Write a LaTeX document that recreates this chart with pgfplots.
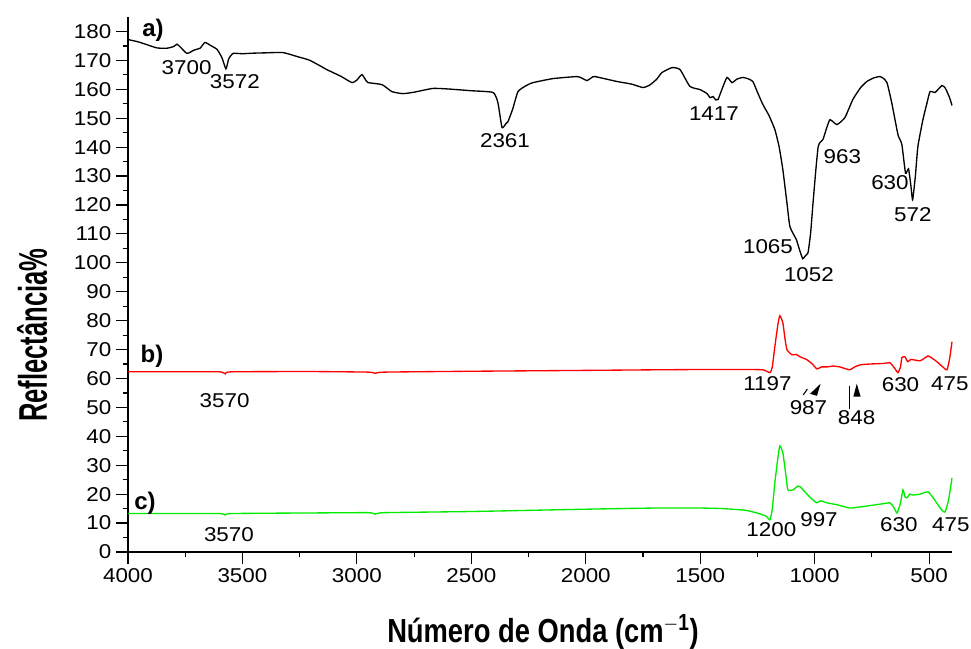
\documentclass[border=0pt]{standalone}
\usepackage{fontspec}
\setmainfont{Liberation Sans}
\newfontfamily\numfont[FakeStretch=1.12]{Liberation Sans}
\usepackage{graphicx}
\usepackage{pgfplots}
\pgfplotsset{compat=1.18}
\definecolor{specred}{RGB}{255,0,0}
\definecolor{specgreen}{RGB}{0,235,0}
\tikzset{
  lab/.style={font=\numfont\fontsize{15}{15}\selectfont, inner sep=0pt},
  tag/.style={font=\fontsize{18}{18}\selectfont\bfseries, inner sep=0pt},
}

\begin{document}
\begin{tikzpicture}
\begin{axis}[
    scale only axis,
    width=618pt, height=401.25pt,
    x dir=reverse,
    xmin=400, xmax=4000,
    ymin=0, ymax=185,
    axis x line=bottom, axis y line=left,
    axis line style={-, line width=1pt},
    tick align=outside,
    major tick length=9pt, minor tick length=4pt,
    xtick={500,1000,...,4000}, minor xtick={750,1250,...,3750},
    ytick={0,10,...,180}, minor ytick={5,15,...,175},
    every tick/.style={black, line width=0.9pt},
    tick label style={font=\numfont\fontsize{15}{15}\selectfont},
    /pgf/number format/assume math mode=true,
    /pgf/number format/1000 sep={},
    clip=false,
    every axis plot/.append style={smooth, tension=0.3, line width=1pt},
]

% a) black spectrum
\addplot[black] coordinates {
(4000,177.2) (3960,176.5) (3920,175.5) (3873,174.3) (3830,174.2) (3800,174.8)
(3786,175.6) (3770,174.5) (3742,172.4) (3710,173.6) (3685,174.2) (3664,176.2)
(3640,175.2) (3611,173.8) (3590,171.0) (3572,167.1) (3560,170.5) (3541,172.4)
(3500,172.3) (3450,172.5) (3400,172.6) (3323,172.7) (3260,171.3) (3205,170.0)
(3131,166.8) (3070,164.5) (3021,162.3) (3000,163.2) (2978,165.1) (2960,163.0)
(2951,162.3) (2890,161.6) (2847,159.2) (2799,158.5) (2750,159.0) (2668,160.3)
(2600,160.1) (2500,159.5) (2405,158.9) (2384,155.4) (2366,146.8) (2350,148.0)
(2340,148.8) (2320,153.0) (2296,159.2) (2260,161.3) (2231,162.3) (2143,163.7)
(2038,164.4) (2015,163.8) (1995,163.0) (1975,164.0) (1960,164.4) (1864,162.7)
(1800,161.8) (1750,160.6) (1720,161.5) (1690,163.5) (1667,165.8) (1623,167.5)
(1588,166.8) (1545,161.0) (1501,159.9) (1470,158.5) (1457,157.1) (1444,157.5)
(1432,156.3) (1422,156.5) (1405,160.0) (1383,164.1) (1361,162.3) (1340,163.5)
(1313,164.1) (1290,163.6) (1270,162.7) (1250,159.0) (1226,154.7) (1200,151.0)
(1174,146.1) (1155,140.0) (1139,132.2) (1120,120.0) (1108,112.5) (1080,108.0)
(1066,104.5) (1052,101.4) (1040,102.5) (1029,103.5) (1018,110.0) (1007,120.8)
(995,132.0) (985,140.0) (977,141.6) (964,142.6) (950,146.0) (933,149.5)
(903,147.8) (868,150.2) (833,156.5) (800,160.5) (772,162.7) (740,164.0)
(715,164.4) (700,163.8) (684,162.3) (665,156.0) (649,149.5) (635,144.0)
(619,140.9) (603,131.0) (590,132.5) (580,127.0) (572,121.8) (560,130.0)
(549,140.2) (527,149.5) (510,155.0) (496,159.2) (474,158.9) (444,161.3)
(430,160.5) (422,159.2) (410,157.0) (400,154.4)
};

% b) red spectrum
\addplot[specred] coordinates {
(4000,62.3) (3800,62.3) (3600,62.3) (3575,61.6) (3550,62.3) (3200,62.4)
(2950,62.2) (2920,61.8) (2880,62.2) (2500,62.5) (2000,62.8) (1700,63.0)
(1500,63.1) (1300,63.1) (1226,63.0) (1195,62.0) (1185,64.0) (1174,71.0)
(1160,79.0) (1152,81.7) (1139,79.3) (1130,74.0) (1121,69.9) (1099,68.2)
(1080,68.3) (1064,67.5) (1034,66.5) (1010,65.0) (990,63.3) (970,64.0)
(946,64.0) (920,64.3) (890,64.0) (870,63.5) (846,63.0) (825,64.0)
(802,64.7) (760,65.0) (700,65.2) (671,65.4) (650,63.5) (636,62.0)
(625,64.0) (619,67.2) (606,67.5) (593,65.8) (580,66.6) (571,66.5)
(540,66.1) (520,67.0) (505,67.8) (490,67.2) (466,65.8) (440,64.0)
(422,63.0) (410,67.0) (400,72.7)
};

% c) green spectrum
\addplot[specgreen] coordinates {
(4000,13.3) (3800,13.3) (3600,13.3) (3575,12.8) (3550,13.3) (3200,13.5)
(2950,13.6) (2920,13.1) (2880,13.6) (2500,14.0) (2000,14.8) (1700,15.2)
(1500,15.2) (1400,15.0) (1300,14.4) (1239,13.2) (1210,12.3) (1195,11.1)
(1185,15.0) (1174,23.9) (1160,33.0) (1152,36.7) (1139,34.3) (1128,28.0)
(1117,21.5) (1095,21.5) (1073,22.8) (1062,22.5) (1051,21.5) (1021,19.0)
(1000,17.5) (990,17.0) (975,17.7) (946,17.0) (900,16.3) (846,15.2)
(800,15.6) (772,15.9) (700,16.7) (671,17.0) (655,15.5) (640,13.5)
(625,17.0) (614,21.5) (605,19.0) (597,18.7) (585,20.0) (571,19.7)
(540,20.0) (505,20.8) (480,18.5) (450,15.0) (431,13.8) (415,18.0)
(400,25.6)
};

% curve tags
\node[tag] at (axis cs:3891,180.3) {a)};
\node[tag] at (axis cs:3895,67.5) {b)};
\node[tag] at (axis cs:3926,17) {c)};

% band labels a)
\node[lab] at (axis cs:3744,167.5) {3700};
\node[lab] at (axis cs:3533,162.7) {3572};
\node[lab] at (axis cs:2353,142.4) {2361};
\node[lab] at (axis cs:1440,151.6) {1417};
\node[lab] at (axis cs:879,136.6) {963};
\node[lab] at (axis cs:671,127.9) {630};
\node[lab] at (axis cs:571,116.5) {572};
\node[lab] at (axis cs:1204,105.7) {1065};
\node[lab] at (axis cs:1025,95.9) {1052};

% band labels b)
\node[lab] at (axis cs:3578,52.4) {3570};
\node[lab] at (axis cs:1206,58.2) {1197};
\node[lab] at (axis cs:1027,50.0) {987};
\node[lab] at (axis cs:817,46.6) {848};
\node[lab] at (axis cs:625,57.8) {630};
\node[lab] at (axis cs:409,58.2) {475};

% markers near 987 and 848
\draw[line width=0.8pt] (axis cs:1050,54.3) -- (axis cs:1032,56.3);
\fill (axis cs:1020,54.7) -- (axis cs:990,54.0) -- (axis cs:974,58.2) -- cycle;
\draw[line width=0.8pt] (axis cs:849,57.5) -- (axis cs:849,49.4);
\fill (axis cs:831,53.7) -- (axis cs:799,53.7) -- (axis cs:816,58.2) -- cycle;

% band labels c)
\node[lab] at (axis cs:3559,5.9) {3570};
\node[lab] at (axis cs:1189,7.8) {1200};
\node[lab] at (axis cs:981,11.2) {997};
\node[lab] at (axis cs:632,9.5) {630};
\node[lab] at (axis cs:405,9.3) {475};

% axis titles
\node[rotate=90] at (axis cs:4419,75) {\scalebox{0.64}[1]{\fontsize{30}{30}\selectfont\bfseries Reflectância\%}};
\node at (axis cs:2187,-27.7) {\scalebox{0.82}[1]{\fontsize{25}{25}\selectfont\bfseries Número de Onda (cm$^{\mathbf{-1}}$)}};
\end{axis}
\pgfresetboundingbox
\path[use as bounding box] ([xshift=-96pt,yshift=-72.75pt]current axis.south west) rectangle ([xshift=14.25pt,yshift=12.75pt]current axis.north east);
\end{tikzpicture}
\end{document}
